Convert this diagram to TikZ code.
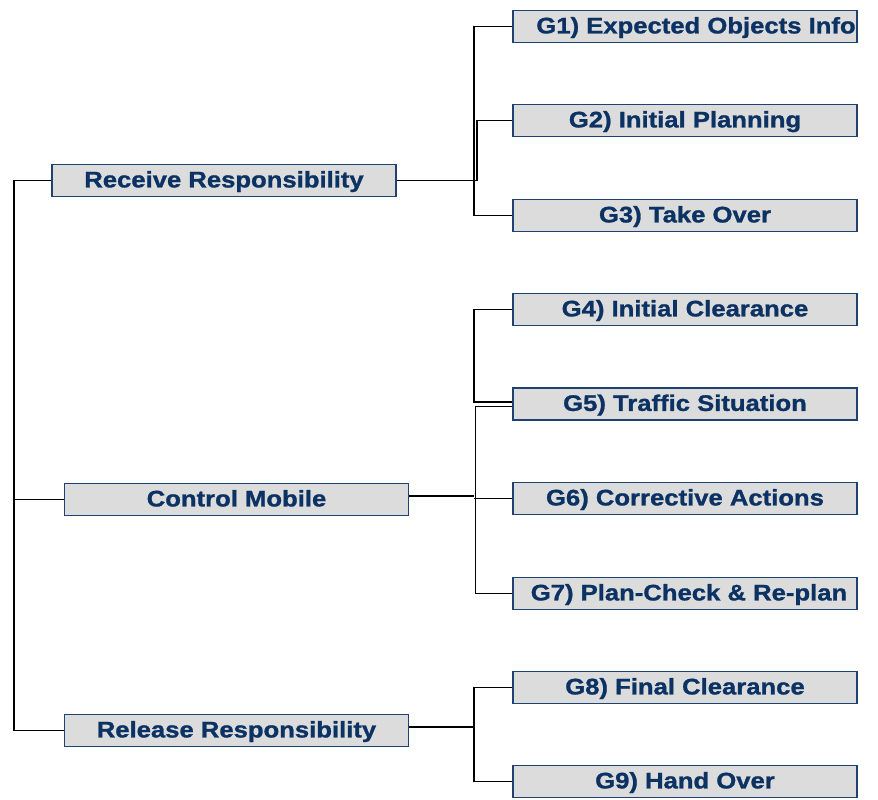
\documentclass[tikz,border=0pt]{standalone}
\usepackage{fontspec}
\setmainfont{Liberation Sans}[FakeStretch=1.14, BoldFeatures={FakeBold=1.2}]
\definecolor{navy}{HTML}{0B3263}
\definecolor{boxborder}{HTML}{1F4173}
\definecolor{boxfill}{HTML}{DCDCDC}
\tikzset{
  goalbox/.style={draw=boxborder, fill=boxfill, line width=1.8pt, minimum width=344pt, minimum height=32pt,
    inner sep=0pt, text height=17.8pt, text depth=4pt, text=navy, font=\fontsize{22.5}{24}\selectfont\bfseries},
  conn/.style={line width=1.3pt, black}
}
\begin{document}
\begin{tikzpicture}[x=1pt,y=-1pt]
\useasboundingbox (0,0) rectangle (878,800);
% left boxes
\node[goalbox] (rr) at (224,180.5) {Receive Responsibility};
\node[goalbox] (cm) at (236.5,499.5) {Control Mobile};
\node[goalbox] (rl) at (236.5,730.5) {Release Responsibility};
% right boxes
\node[goalbox] (g1) at (685,26.5) {\hspace*{22pt}G1) Expected Objects Info};
\node[goalbox] (g2) at (685,120.5) {G2) Initial Planning};
\node[goalbox] (g3) at (685,215.5) {G3) Take Over};
\node[goalbox] (g4) at (685,309.5) {G4) Initial Clearance};
\node[goalbox] (g5) at (685,404) {G5) Traffic Situation};
\node[goalbox] (g6) at (685,498.5) {G6) Corrective Actions};
\node[goalbox] (g7) at (685,593.5) {\hspace*{8pt}G7) Plan-Check \& Re-plan};
\node[goalbox] (g8) at (685,687.5) {G8) Final Clearance};
\node[goalbox] (g9) at (685,781.5) {G9) Hand Over};
% trunk
\coordinate (t1) at (14,180.5);
\coordinate (t3) at (14,730.5);
\draw[conn] (rr.west) -- (t1) -- (t3) -- (rl.west);
\draw[conn] (14,499.5) -- (cm.west);
% receive branch
\draw[conn] (rr.east) -- (477,180.5) -- (477,120.5) -- (g2.west);
\draw[conn] (g1.west) -- (474,26.5) -- (474,215.5) -- (g3.west);
% control branch
\draw[conn] (cm.east |- 0,496) -- (474,496);
\draw[conn] (g4.west) -- (474,309.5) -- (474,402) -- (g5.west |- 0,402);
\draw[conn] (g5.west |- 0,406.5) -- (475.5,406.5) -- (475.5,593.5) -- (g7.west);
\draw[conn] (474,498.5) -- (g6.west);
% release branch
\draw[conn] (rl.east |- 0,727) -- (474,727);
\draw[conn] (g8.west) -- (474,687.5) -- (474,781.5) -- (g9.west);
\end{tikzpicture}
\end{document}
